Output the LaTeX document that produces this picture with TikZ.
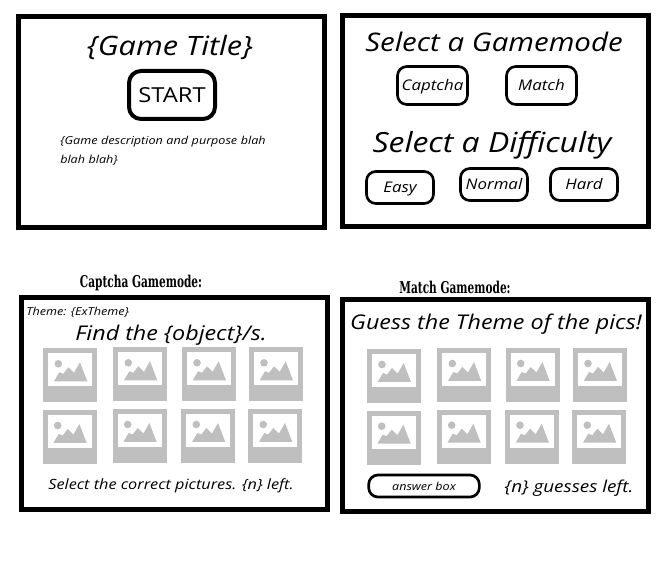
\documentclass[tikz,border=0pt]{standalone}
\usepackage{fontspec}
\setmainfont{Open Sans}
\newfontfamily\handfont[FakeStretch=1.15]{Open Sans}
\newfontfamily\headfont[FakeStretch=0.65]{DejaVu Serif}
\usetikzlibrary{shapes,positioning,calc}

\begin{document}
\begin{tikzpicture}[x=0.75pt,y=-0.75pt,join=miter]
	\tikzstyle{screen}=[draw, line width=3.75pt, fill=white];
	\tikzstyle{btn}=[draw, rounded corners=7pt, line width=2pt, inner sep=0, text height=8pt, text depth=0pt, font=\handfont\itshape\fontsize{11}{14}\selectfont];
	\tikzstyle{hand_big}=[font=\handfont\itshape\fontsize{20}{22}\selectfont, inner sep=0];
	\tikzstyle{hand_mid}=[font=\handfont\itshape\fontsize{15.2}{17}\selectfont, inner sep=0];
	\tikzstyle{hand_low}=[font=\handfont\itshape\fontsize{10.6}{14}\selectfont, inner sep=0];
	\tikzstyle{hand_small}=[font=\handfont\itshape\fontsize{8.2}{14.2}\selectfont, inner sep=0];
	\tikzstyle{head}=[font=\headfont\bfseries\fontsize{12.2}{14}\selectfont, inner sep=0];
	\definecolor{thumbgray}{gray}{0.75}

	\useasboundingbox (0,0) rectangle (664,573);

	% the four screens
	\draw[screen] (18.5,16.5) rectangle (324.5,228);
	\draw[screen] (342.5,15.5) rectangle (648.5,226.5);
	\draw[screen] (21.5,297.5) rectangle (327.5,509.5);
	\draw[screen] (342.5,299.5) rectangle (648.5,511.5);

	% title screen
	\node[hand_big] (game_title) at (170,47) {\{Game Title\}};
	\node[btn, line width=3pt, rounded corners=9pt, minimum width=64.5, minimum height=36, text height=11pt, font=\handfont\fontsize{15.5}{18}\selectfont] (b_start) at (172,95) {START};
	\node[hand_small, anchor=north west, align=left, text width=160pt] (game_desc) at (60,136) {\{Game description and purpose blah\\blah blah\}};

	% mode and difficulty
	\node[hand_big, font=\handfont\itshape\fontsize{19.2}{22}\selectfont] (sel_mode) at (494,42) {Select a Gamemode};
	\node[btn, minimum width=52.5, minimum height=28.5] (b_captcha) at (432.5,85.5) {Captcha};
	\node[btn, minimum width=52.5, minimum height=28.5] (b_match) at (541.5,85.5) {Match};
	\node[hand_big, font=\handfont\itshape\fontsize{20.8}{22}\selectfont] (sel_diff) at (492,145) {Select a Difficulty};
	\node[btn, minimum width=50.25, minimum height=24] (b_easy) at (400,187.5) {Easy};
	\node[btn, minimum width=50.25, minimum height=24] (b_normal) at (494,184.5) {Normal};
	\node[btn, minimum width=50.25, minimum height=24] (b_hard) at (584,184.5) {Hard};

	% captcha screen
	\node[head] (cap_head) at (141,283) {Captcha Gamemode:};
	\node[hand_small, anchor=west] (cap_theme) at (26,312) {Theme: \{ExTheme\}};
	\node[hand_mid] (cap_find) at (171,335) {Find the \{object\}/s.};
	\node[hand_low] (cap_left) at (171,486) {Select the correct pictures. \{n\} left.};

	% match screen
	\node[head] (mat_head) at (455,287) {Match Gamemode:};
	\node[hand_mid] (mat_guess) at (496,324) {Guess the Theme of the pics!};
	\node[btn, minimum width=83, minimum height=16.5, text height=6pt, font=\handfont\itshape\fontsize{8.2}{10}\selectfont] (b_answer) at (424,486) {answer box};
	\node[hand_low, font=\handfont\itshape\fontsize{12.3}{14}\selectfont] (mat_left) at (569,488) {\{n\} guesses left.};

	% picture placeholders
	\foreach \px/\py in {43.3/348.3,113.3/347.3,182/347.3,249/347.3,42.7/410,112.7/409,181.3/409,248.3/409,
		367/349,437.3/348,505.7/348,573/348,366.7/410.7,436.7/409.7,505/409.7,572.3/409.7} {
		\begin{scope}[shift={(\px,\py)}]
			\fill[thumbgray] (0,0) rectangle (54,54);
			\fill[white] (5,5) rectangle (49,38);
			\fill[thumbgray] (15,15.5) circle (3.8);
			\fill[thumbgray] (10.7,33) -- (16,24) -- (20,25.5) -- (25,19) -- (30.7,24.5) -- (36.7,14) -- (44,33) -- cycle;
		\end{scope}
	}
\end{tikzpicture}
\end{document}
